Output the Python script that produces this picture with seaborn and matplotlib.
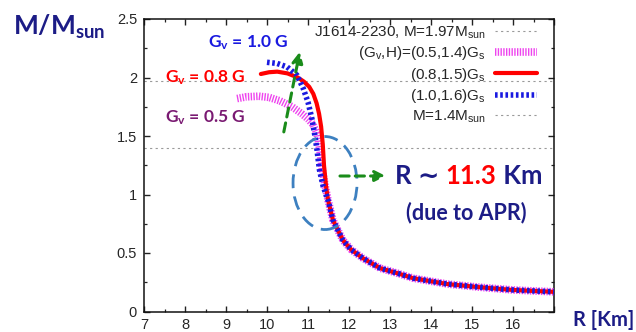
import matplotlib
matplotlib.use("Agg")
import matplotlib.pyplot as plt
import seaborn as sns
from matplotlib.patches import Ellipse
from matplotlib.ticker import AutoMinorLocator

# --- values (R in km, M in solar masses) ---
# upper branches differ per (Gv, H); below ~1 Msun the three curves coincide
r_05_top = [9.27, 9.5, 9.8, 10.05, 10.32, 10.61, 10.85, 11.0, 11.12, 11.22, 11.29, 11.35, 11.42]
m_05_top = [1.82, 1.835, 1.84, 1.83, 1.80, 1.75, 1.69, 1.645, 1.60, 1.52, 1.38, 1.21, 1.07]

r_08_top = [9.85, 10.05, 10.25, 10.5, 10.75, 10.9, 11.03, 11.13, 11.21, 11.27, 11.32, 11.36, 11.39, 11.44]
m_08_top = [2.03, 2.045, 2.05, 2.035, 2.0, 1.965, 1.92, 1.86, 1.78, 1.69, 1.58, 1.43, 1.25, 1.07]

r_10_top = [10.0, 10.25, 10.49, 10.73, 10.88, 11.0, 11.1, 11.17, 11.22, 11.28, 11.37]
m_10_top = [2.13, 2.12, 2.09, 2.02, 1.91, 1.79, 1.64, 1.50, 1.38, 1.21, 1.07]

r_tail = [11.49, 11.61, 11.85, 12.05, 12.34, 12.76, 13.2, 13.56, 14.39, 15.2, 16.0, 17.0]
m_tail = [0.95, 0.78, 0.61, 0.53, 0.455, 0.37, 0.325, 0.285, 0.235, 0.207, 0.184, 0.168]

ref_mass = [1.97, 1.4]
ref_labels = [r"J1614-2230, M=1.97M$_\mathrm{sun}$", r"M=1.4M$_\mathrm{sun}$"]
curve_labels = [r"(G$_\mathrm{v}$,H)=(0.5,1.4)G$_\mathrm{s}$",
                r"(0.8,1.5)G$_\mathrm{s}$",
                r"(1.0,1.6)G$_\mathrm{s}$"]

x_ticks = [7, 8, 9, 10, 11, 12, 13, 14, 15, 16, 17]
x_ticklabels = ["7", "8", "9", "10", "11", "12", "13", "14", "15", "16", ""]
y_ticks = [0, 0.5, 1, 1.5, 2, 2.5]
y_ticklabels = ["0", "0.5", "1", "1.5", "2", "2.5"]

# --- style ---
sns.set_style("ticks")
plt.rcParams["font.family"] = ["Liberation Sans", "DejaVu Sans"]
plt.rcParams["mathtext.fontset"] = "custom"
plt.rcParams["mathtext.rm"] = "Liberation Sans"
plt.rcParams["mathtext.it"] = "Liberation Sans"
plt.rcParams["mathtext.bf"] = "Lato:bold"

NAVY = "#1c1c86"
GREEN = "#1a8c1a"
MAGENTA = "#ee44ee"
RED = "#ff0000"
BLUE = "#1a1ae0"
GRAY = "#9a9a9a"
BOLD = ["Lato", "DejaVu Sans"]

fig = plt.figure(figsize=(6.36, 3.32), dpi=100)
ax = fig.add_axes([144 / 636, 1 - 311.5 / 332, 410 / 636, 292.5 / 332])

# reference masses
ref_handles = []
for m in ref_mass:
    ln = ax.axhline(m, color=GRAY, lw=0.8, ls=(0, (2, 3)), zorder=1)
    ref_handles.append(ln)

# M-R curves (magenta underneath, red, blue dotted on top)
sns.lineplot(x=r_05_top + r_tail, y=m_05_top + m_tail, ax=ax, sort=False,
             estimator=None, color=MAGENTA, lw=5.5, ls=(0, (0.18, 0.18)), zorder=3)
sns.lineplot(x=r_08_top + r_tail, y=m_08_top + m_tail, ax=ax, sort=False,
             estimator=None, color=RED, lw=3.0, zorder=4)
sns.lineplot(x=r_10_top + r_tail, y=m_10_top + m_tail, ax=ax, sort=False,
             estimator=None, color=BLUE, lw=4.0, ls=(0, (0.47, 0.47)), zorder=5)
curve_lines = ax.get_lines()[-3:]

ax.set_xlim(7, 17)
ax.set_ylim(0, 2.5)
ax.set_xticks(x_ticks, x_ticklabels)
ax.set_yticks(y_ticks, y_ticklabels)
ax.xaxis.set_minor_locator(AutoMinorLocator(2))
ax.yaxis.set_minor_locator(AutoMinorLocator(2))
ax.tick_params(which="both", direction="in", top=True, right=True, color="#222222")
ax.tick_params(which="major", length=4.5, width=1.0, labelsize=10.5, pad=5)
ax.tick_params(which="minor", length=2.5, width=0.9)
for s in ax.spines.values():
    s.set_linewidth(1.1)
    s.set_color("#111111")

handles = [ref_handles[0]] + curve_lines + [ref_handles[1]]
labels = [ref_labels[0]] + curve_labels + [ref_labels[1]]
ax.legend(handles, labels, loc="upper right", bbox_to_anchor=(393 / 410, 287 / 292.5),
          frameon=False, markerfirst=False, fontsize=11, handlelength=2.75,
          handletextpad=0.6, labelspacing=0.22, borderpad=0, borderaxespad=0)

# --- annotations ---
ax.text(8.56, 2.30, r"$\mathbf{G_v}$ = 1.0 G", color=BLUE, fontsize=12.5,
        fontweight="bold", family=BOLD, va="center")
ax.text(7.51, 2.00, r"$\mathbf{G_v}$ = 0.8 G", color=RED, fontsize=12.5,
        fontweight="bold", family=BOLD, va="center")
ax.text(7.51, 1.66, r"$\mathbf{G_v}$ = 0.5 G", color="#7a1a72", fontsize=12.5,
        fontweight="bold", family=BOLD, va="center")

ax.add_patch(Ellipse((11.415, 1.098), 1.56, 0.795, fill=False, ec="#3d80c0",
                     lw=2.0, ls=(0, (5, 3.0)), zorder=6, clip_on=False))

ax.annotate("", xy=(10.80, 2.22), xytext=(10.41, 1.535),
            arrowprops=dict(arrowstyle="-|>", color=GREEN, lw=2.2, ls=(0, (3, 2)),
                            mutation_scale=16, shrinkA=0, shrinkB=0), zorder=7)
ax.annotate("", xy=(12.90, 1.158), xytext=(11.78, 1.158),
            arrowprops=dict(arrowstyle="-|>", color=GREEN, lw=2.2, ls=(0, (3, 2)),
                            mutation_scale=16, shrinkA=0, shrinkB=0), zorder=7)

t1 = ax.text(13.12, 1.158, "R \u223c ", color=NAVY, fontsize=18.5, fontweight="bold",
             family=BOLD, va="center")
t2 = ax.annotate("11.3", xy=(1, 0), xycoords=t1, va="bottom", ha="left",
                 color=RED, fontsize=18.5, fontweight="bold", family=BOLD)
ax.annotate(" Km", xy=(1, 0), xycoords=t2, va="bottom", ha="left",
            color=NAVY, fontsize=18.5, fontweight="bold", family=BOLD)
ax.text(14.85, 0.85, "(due to APR)", color=NAVY, fontsize=15.5, fontweight="bold",
        family=BOLD, ha="center", va="center")

fig.text(13 / 636, 1 - 27 / 332, r"$\mathbf{M/M_{sun}}$", color=NAVY, fontsize=19,
         fontweight="bold", family=BOLD, va="center", ha="left")
fig.text(634 / 636, 1 - 320 / 332, "R [Km]", color=NAVY, fontsize=14.5,
         fontweight="bold", family=BOLD, va="center", ha="right")

fig.savefig("out.png", dpi=100)
